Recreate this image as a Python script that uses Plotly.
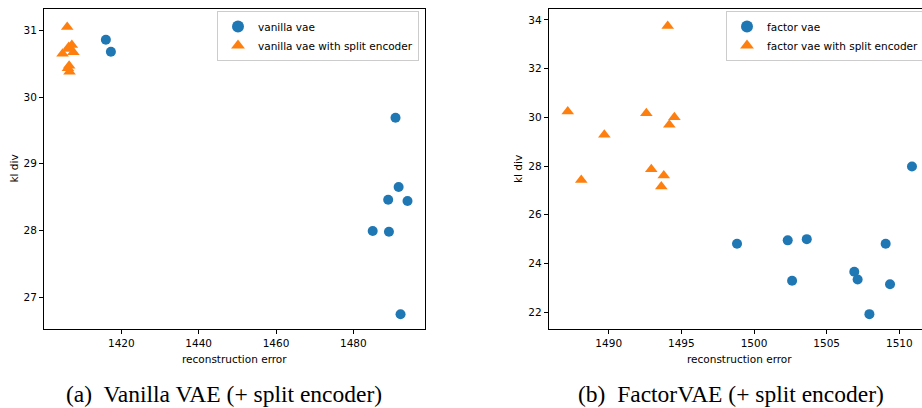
import plotly.graph_objects as go

# ---------------- data ----------------
# (a) Vanilla VAE
vae_x = [1416.0, 1417.3, 1490.9, 1491.7, 1489.0, 1494.0, 1485.0, 1489.2, 1492.2]
vae_y = [30.86, 30.68, 29.69, 28.65, 28.46, 28.44, 27.99, 27.98, 26.74]
vae_split_x = [1406.0, 1404.8, 1406.3, 1407.2, 1407.6, 1406.4, 1406.5, 1406.6, 1406.2]
vae_split_y = [31.05, 30.65, 30.72, 30.78, 30.67, 30.75, 30.47, 30.38, 30.43]

# (b) FactorVAE
fvae_x = [1510.87, 1498.83, 1502.32, 1503.63, 1502.62, 1506.9, 1507.13, 1509.06, 1509.36, 1507.94]
fvae_y = [27.98, 24.81, 24.95, 25.0, 23.29, 23.66, 23.34, 24.81, 23.15, 21.92]
fvae_split_x = [1487.18, 1488.11, 1489.7, 1492.59, 1492.93, 1494.06, 1494.52, 1494.17, 1493.79, 1493.62]
fvae_split_y = [30.24, 27.43, 29.29, 30.17, 27.87, 33.75, 30.0, 29.70, 27.61, 27.16]

left_xticks = [1420, 1440, 1460, 1480]
left_yticks = [27, 28, 29, 30, 31]
right_xticks = [1490, 1495, 1500, 1505, 1510]
right_yticks = [22, 24, 26, 28, 30, 32, 34]

names = ["vanilla vae", "vanilla vae with split encoder",
         "factor vae", "factor vae with split encoder"]
captions = ["(a)  Vanilla VAE (+ split encoder)", "(b)  FactorVAE (+ split encoder)"]

BLUE = "#1f77b4"
ORANGE = "#ff7f0e"
W, H = 922, 408
ML, MR, MT, MB = 44, 0, 9, 79
PW, PH = W - ML - MR, H - MT - MB


def px(x):
    return (x - ML) / PW


def py(y):
    return (H - MB - y) / PH


fig = go.Figure()
fig.add_trace(go.Scatter(x=vae_x, y=vae_y, mode="markers", name=names[0],
                         marker=dict(color=BLUE, size=10, symbol="circle"),
                         xaxis="x", yaxis="y", legend="legend"))
fig.add_trace(go.Scatter(x=vae_split_x, y=vae_split_y, mode="markers", name=names[1],
                         marker=dict(color=ORANGE, size=11, symbol="triangle-up"),
                         xaxis="x", yaxis="y", legend="legend"))
fig.add_trace(go.Scatter(x=fvae_x, y=fvae_y, mode="markers", name=names[2],
                         marker=dict(color=BLUE, size=10, symbol="circle"),
                         xaxis="x2", yaxis="y2", legend="legend2"))
fig.add_trace(go.Scatter(x=fvae_split_x, y=fvae_split_y, mode="markers", name=names[3],
                         marker=dict(color=ORANGE, size=11, symbol="triangle-up"),
                         xaxis="x2", yaxis="y2", legend="legend2"))

tickfont = dict(family="DejaVu Sans", size=10.5, color="black")
axcommon = dict(showgrid=False, zeroline=False, showline=True, linecolor="black",
                linewidth=1, ticks="outside", ticklen=4, tickwidth=1,
                tickcolor="black", tickfont=tickfont)

legfont = dict(family="DejaVu Sans", size=10.5, color="black")

fig.update_layout(
    width=W, height=H,
    margin=dict(l=ML, r=MR, t=MT, b=MB, autoexpand=False),
    paper_bgcolor="white", plot_bgcolor="white",
    xaxis=dict(domain=[0, px(425.3)], range=[1400.0, 1498.6], tickvals=left_xticks,
               mirror=True, anchor="y", **axcommon),
    yaxis=dict(domain=[0, 1], range=[26.52, 31.32], tickvals=left_yticks,
               mirror=True, anchor="x", **axcommon),
    xaxis2=dict(domain=[px(548.7), 1], range=[1485.87, 1511.56], tickvals=right_xticks,
                mirror=True, anchor="y2", **axcommon),
    yaxis2=dict(domain=[0, 1], range=[21.31, 34.45], tickvals=right_yticks,
                mirror=False, anchor="x2", **axcommon),
    legend=dict(x=px(419), y=py(11), xanchor="right", yanchor="top",
                bordercolor="#cccccc", borderwidth=1, bgcolor="white",
                font=legfont, tracegroupgap=0, itemsizing="constant"),
    legend2=dict(x=px(726), y=py(11), xanchor="left", yanchor="top",
                 bordercolor="#cccccc", borderwidth=1, bgcolor="white",
                 font=legfont, tracegroupgap=0, itemsizing="constant"),
    showlegend=True,
)

lab = dict(family="DejaVu Sans", size=10.5, color="black")
cap = dict(family="Liberation Serif", size=23.5, color="black")
annots = [
    dict(text="reconstruction error", x=px(234.5), y=py(359), font=lab, yanchor="middle"),
    dict(text="reconstruction error", x=px(739.7), y=py(359), font=lab, yanchor="middle"),
    dict(text="kl div", x=px(13.5), y=py(169), textangle=-90, font=lab, yanchor="middle"),
    dict(text="kl div", x=px(518), y=py(169), textangle=-90, font=lab, yanchor="middle"),
    dict(text=captions[0], x=px(224), y=py(408), font=cap, yanchor="bottom", borderpad=0),
    dict(text=captions[1], x=px(731), y=py(408), font=cap, yanchor="bottom", borderpad=0),
]
for a in annots:
    a.update(xref="paper", yref="paper", showarrow=False, xanchor="center")
fig.update_layout(annotations=annots)

fig.write_html("out.html", config={"displayModeBar": False})
